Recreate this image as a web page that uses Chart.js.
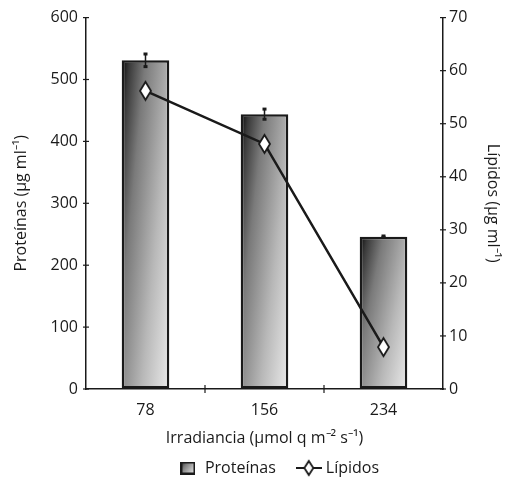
<!DOCTYPE html>
<html>
<head>
<meta charset="utf-8">
<script src="https://cdn.jsdelivr.net/npm/chart.js@4"></script>
<style>
  html, body { margin: 0; padding: 0; background: #fff; }
  #wrap { width: 506px; height: 490px; }
</style>
</head>
<body>
<div id="wrap"><canvas id="grafico"></canvas></div>
<script>
// datos
const irradiancia = ['78', '156', '234'];
const proteinas = [531, 444, 246];
const proteinasErr = [11, 9, 2];
const lipidos = [56.2, 46.2, 7.9];
const ticksProt = [0, 100, 200, 300, 400, 500, 600];
const ticksLip = [0, 10, 20, 30, 40, 50, 60, 70];

const FONT = '"Open Sans"';
const TAM = 16;
const NEGRO = '#1a1a1a';

// degradado diagonal de cada barra (oscuro arriba a la izquierda)
function degradado(ctx, left, top, w, h) {
  const A = 0.6, B = 0.4;
  const dx = A / w, dy = B / h;
  const k = 1 / (dx * dx + dy * dy);
  const g = ctx.createLinearGradient(left, top, left + dx * k, top + dy * k);
  g.addColorStop(0, '#080808');
  g.addColorStop(0.1, '#3a3a3a');
  g.addColorStop(0.3, '#7a7a7a');
  g.addColorStop(0.65, '#b8b8b8');
  g.addColorStop(1, '#eaeaea');
  return g;
}

function colorBarra(c) {
  const chart = c.chart;
  const sx = chart.scales.x, sy = chart.scales.y;
  if (!sx || !sy || c.dataIndex === undefined) return '#999';
  const cat = (sx.right - sx.left) / irradiancia.length;
  const w = cat * 0.4;
  const cx = sx.getPixelForValue(c.dataIndex);
  const top = sy.getPixelForValue(proteinas[c.dataIndex]);
  const bottom = sy.getPixelForValue(0);
  return degradado(chart.ctx, cx - w / 2, top, w, bottom - top);
}

// rombo alargado para los puntos
function rombo(w, h, conLinea) {
  const cw = conLinea ? 26 : w + 4;
  const c = document.createElement('canvas');
  c.width = cw; c.height = h + 4;
  const x = c.getContext('2d');
  const mx = cw / 2, my = c.height / 2;
  if (conLinea) {
    x.strokeStyle = NEGRO; x.lineWidth = 2;
    x.beginPath(); x.moveTo(0, my); x.lineTo(cw, my); x.stroke();
  }
  x.beginPath();
  x.moveTo(mx, my - h / 2); x.lineTo(mx + w / 2, my);
  x.lineTo(mx, my + h / 2); x.lineTo(mx - w / 2, my); x.closePath();
  x.fillStyle = '#fff'; x.fill();
  x.strokeStyle = NEGRO; x.lineWidth = 1.8; x.stroke();
  return c;
}

function cuadroLeyenda() {
  const c = document.createElement('canvas');
  c.width = 15; c.height = 13;
  const x = c.getContext('2d');
  x.fillStyle = degradado(x, 0, 0, 15, 13);
  x.fillRect(0, 0, 15, 13);
  x.strokeStyle = NEGRO; x.lineWidth = 2;
  x.strokeRect(1, 1, 13, 11);
  return c;
}

const puntoLip = rombo(11, 18, false);
const leyLip = rombo(9, 14, true);
const leyProt = cuadroLeyenda();

// barras de error y marcas de los ejes cruzando la línea
const extras = {
  id: 'extras',
  afterLayout(chart) {
    // la leyenda del original está algo desplazada a la derecha
    chart.legend.left += 26;
    chart.legend.right += 26;
  },
  afterDatasetsDraw(chart) {
    const ctx = chart.ctx;
    const sx = chart.scales.x, sy = chart.scales.y, sy2 = chart.scales.y2;
    ctx.save();
    ctx.strokeStyle = NEGRO;
    ctx.lineWidth = 1.5;
    proteinas.forEach((v, i) => {
      const x = sx.getPixelForValue(i);
      const y1 = sy.getPixelForValue(v + proteinasErr[i]);
      const y0 = sy.getPixelForValue(v - proteinasErr[i]);
      ctx.beginPath(); ctx.moveTo(x, y1); ctx.lineTo(x, y0); ctx.stroke();
      ctx.fillStyle = NEGRO;
      ctx.fillRect(x - 2, y1 - 1, 4, 3);
      ctx.fillRect(x - 2, y0 - 2, 4, 3);
    });
    ctx.lineWidth = 1.2;
    ticksProt.forEach(t => {
      const y = sy.getPixelForValue(t);
      ctx.beginPath(); ctx.moveTo(sy.right - 3, y); ctx.lineTo(sy.right + 3, y); ctx.stroke();
    });
    ticksLip.forEach(t => {
      const y = sy2.getPixelForValue(t);
      ctx.beginPath(); ctx.moveTo(sy2.left - 3, y); ctx.lineTo(sy2.left + 3, y); ctx.stroke();
    });
    const base = sy.getPixelForValue(0);
    for (let i = 0; i < irradiancia.length - 1; i++) {
      const x = (sx.getPixelForValue(i) + sx.getPixelForValue(i + 1)) / 2;
      ctx.beginPath(); ctx.moveTo(x, base - 4); ctx.lineTo(x, base + 4); ctx.stroke();
    }
    ctx.restore();
  }
};

new Chart(document.getElementById('grafico'), {
  data: {
    labels: irradiancia,
    datasets: [
      {
        type: 'line', label: 'Lípidos', data: lipidos, yAxisID: 'y2', order: 0,
        borderColor: NEGRO, borderWidth: 2.5, tension: 0,
        pointStyle: puntoLip, pointRadius: 8
      },
      {
        type: 'bar', label: 'Proteínas', data: proteinas, yAxisID: 'y', order: 1,
        backgroundColor: colorBarra, borderColor: NEGRO, borderWidth: 2.5,
        borderSkipped: false, barPercentage: 0.4, categoryPercentage: 1
      }
    ]
  },
  options: {
    responsive: true, maintainAspectRatio: false, animation: false,
    layout: { padding: { top: 16, bottom: 4 } },
    plugins: {
      tooltip: { enabled: false },
      legend: {
        position: 'bottom',
        labels: {
          color: NEGRO, font: { family: FONT, size: TAM }, usePointStyle: true,
          pointStyleWidth: 18, padding: 24,
          generateLabels() {
            return [
              { text: 'Proteínas', pointStyle: leyProt, datasetIndex: 1, fontColor: NEGRO, lineWidth: 0 },
              { text: 'Lípidos', pointStyle: leyLip, datasetIndex: 0, fontColor: NEGRO, lineWidth: 0 }
            ];
          }
        }
      }
    },
    scales: {
      x: {
        grid: { display: true, drawOnChartArea: false, drawTicks: false, offset: true },
        border: { color: NEGRO, width: 1.5 },
        ticks: { color: NEGRO, font: { family: FONT, size: TAM }, padding: 12 },
        title: { display: true, text: 'Irradiancia (µmol q m⁻² s⁻¹)', color: NEGRO, font: { family: FONT, size: TAM }, padding: { top: 4, bottom: -12 } },
        afterFit(s) { s.height = 47; }
      },
      y: {
        position: 'left', min: 0, max: 600,
        afterBuildTicks(s) { s.ticks = ticksProt.map(v => ({ value: v })); },
        grid: { drawOnChartArea: false, drawTicks: false },
        border: { color: NEGRO, width: 1.5 },
        ticks: { color: NEGRO, font: { family: FONT, size: TAM }, padding: 8 },
        title: { display: true, text: 'Proteínas (µg ml⁻¹)', color: NEGRO, font: { family: FONT, size: TAM }, padding: { top: 12, bottom: 4 } },
        afterFit(s) { s.width = 86; }
      },
      y2: {
        position: 'right', min: 0, max: 70,
        afterBuildTicks(s) { s.ticks = ticksLip.map(v => ({ value: v })); },
        grid: { drawOnChartArea: false, drawTicks: false },
        border: { color: NEGRO, width: 1.5 },
        ticks: { color: NEGRO, font: { family: FONT, size: TAM }, padding: 6 },
        title: { display: true, text: 'Lípidos (µg ml⁻¹)', color: NEGRO, font: { family: FONT, size: TAM } },
        afterFit(s) { s.width = 63; }
      }
    }
  },
  plugins: [extras]
});
</script>
</body>
</html>
